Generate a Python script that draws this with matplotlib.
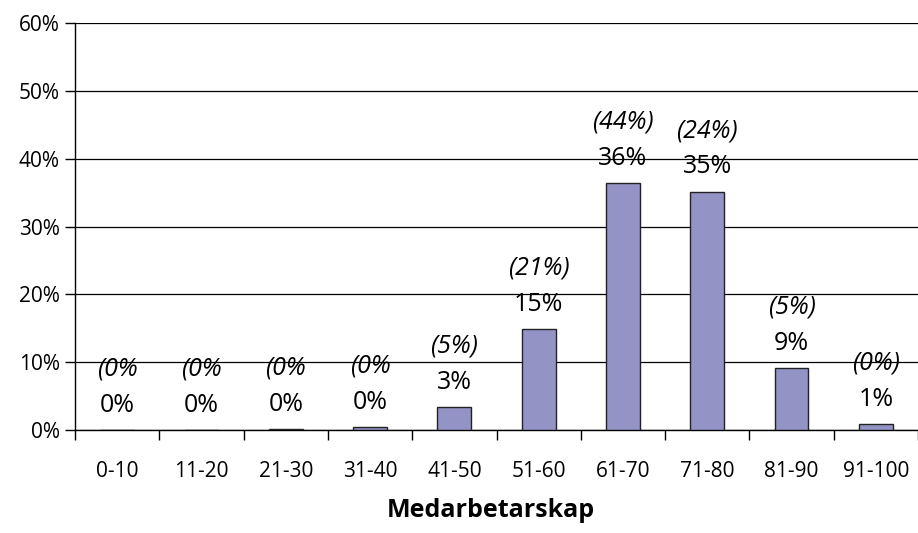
import matplotlib.pyplot as plt
from matplotlib.ticker import FixedLocator, PercentFormatter

# andel per intervall (procent)
kategorier = ['0-10', '11-20', '21-30', '31-40', '41-50',
              '51-60', '61-70', '71-80', '81-90', '91-100']
varden = [0.0, 0.0, 0.1, 0.4, 3.4, 14.9, 36.4, 35.1, 9.1, 0.9]
etiketter = ['0%', '0%', '0%', '0%', '3%', '15%', '36%', '35%', '9%', '1%']
jamfor = ['(0%', '(0%', '(0%', '(0%', '(5%)', '(21%)', '(44%)', '(24%)', '(5%)', '(0%)']

plt.rcParams['font.family'] = ['Open Sans', 'DejaVu Sans']

fig = plt.figure(figsize=(9.18, 5.33), dpi=100)
ax = fig.add_axes([0.0817, 0.193, 0.9183, 0.764])

x = list(range(len(kategorier)))
ax.bar(x, varden, width=0.4, color='#9393C6', edgecolor='#222222',
       linewidth=1.0, zorder=3)

ax.set_xlim(-0.5, 9.5)
ax.set_ylim(0, 60)
ax.set_yticks(range(0, 61, 10))
ax.yaxis.set_major_formatter(PercentFormatter(decimals=0))
ax.grid(axis='y', color='black', linewidth=0.9, zorder=0)

ax.set_xticks(x)
ax.set_xticklabels(kategorier, fontsize=15)
ax.xaxis.set_minor_locator(FixedLocator([i - 0.5 for i in range(11)]))
ax.tick_params(axis='x', which='major', length=0, pad=22)
ax.tick_params(axis='x', which='minor', length=7, width=1, direction='out')
ax.tick_params(axis='y', length=7, width=1, direction='out', labelsize=15, pad=4)

for side in ['top', 'right']:
    ax.spines[side].set_visible(False)
ax.spines['left'].set_linewidth(1)
ax.spines['bottom'].set_linewidth(1)

for xi, v, lab, jmf in zip(x, varden, etiketter, jamfor):
    ax.annotate(lab, (xi, v), xytext=(0, 18), textcoords='offset points',
                ha='center', va='center', fontsize=18)
    ax.annotate(jmf, (xi, v), xytext=(0, 44), textcoords='offset points',
                ha='center', va='center', fontsize=18, style='italic')

fig.text(0.535, 0.043, 'Medarbetarskap', ha='center', va='center',
         fontsize=18, fontweight='bold')

fig.savefig('out.png', dpi=100)
